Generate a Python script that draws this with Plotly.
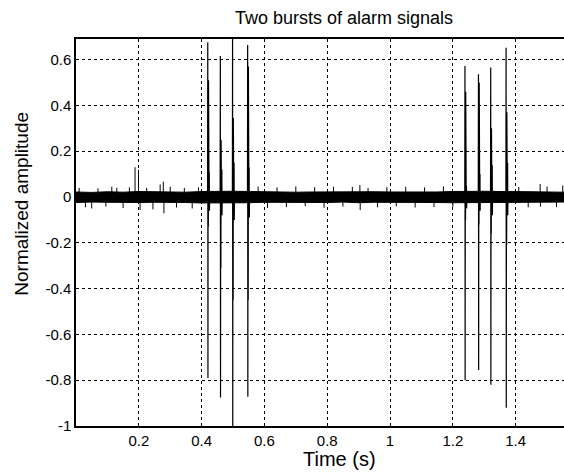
import plotly.graph_objects as go

# ---- data ----
# background noise envelope (time in s, upper / lower amplitude)
noise_t = [0.00, 0.05, 0.10, 0.15, 0.20, 0.25, 0.30, 0.35, 0.40, 0.45, 0.50, 0.55,
           0.60, 0.65, 0.70, 0.75, 0.80, 0.85, 0.90, 0.95, 1.00, 1.05, 1.10, 1.15,
           1.20, 1.25, 1.30, 1.35, 1.40, 1.45, 1.50, 1.56]
noise_hi = [0.022, 0.020, 0.023, 0.021, 0.024, 0.022, 0.023, 0.021, 0.024, 0.026, 0.025, 0.024,
            0.022, 0.023, 0.021, 0.022, 0.023, 0.021, 0.024, 0.023, 0.022, 0.021, 0.023, 0.022,
            0.024, 0.026, 0.025, 0.024, 0.022, 0.023, 0.022, 0.021]
noise_lo = [-0.024, -0.022, -0.023, -0.025, -0.024, -0.023, -0.022, -0.024, -0.026, -0.027, -0.026, -0.025,
            -0.023, -0.024, -0.022, -0.023, -0.024, -0.022, -0.025, -0.023, -0.024, -0.022, -0.023, -0.024,
            -0.025, -0.027, -0.026, -0.025, -0.023, -0.024, -0.023, -0.022]

# isolated small excursions above/below the noise band
small_t = [0.010, 0.030, 0.050, 0.070, 0.095, 0.114, 0.130, 0.150, 0.170, 0.188, 0.199, 0.204,
           0.225, 0.245, 0.268, 0.278, 0.280, 0.300, 0.320, 0.345, 0.370, 0.390, 0.580, 0.610,
           0.640, 0.670, 0.700, 0.730, 0.760, 0.790, 0.820, 0.850, 0.880, 0.904, 0.905, 0.930,
           0.960, 0.990, 1.020, 1.050, 1.080, 1.110, 1.140, 1.170, 1.200, 1.410, 1.440, 1.478,
           1.479, 1.500, 1.530, 1.550]
small_v = [0.040, -0.045, -0.050, 0.038, -0.042, 0.045, 0.040, -0.048, 0.042, 0.130, 0.118, -0.057,
           0.040, -0.054, 0.055, 0.067, -0.071, 0.045, -0.046, 0.040, -0.050, 0.042, 0.045, -0.048,
           0.042, -0.044, 0.046, -0.040, 0.043, -0.047, 0.045, -0.042, 0.044, 0.052, -0.057, 0.040,
           -0.045, 0.043, -0.041, 0.045, -0.046, 0.042, -0.044, 0.046, -0.043, 0.044, -0.045, 0.057,
           -0.042, 0.046, -0.044, 0.050]

# alarm pulses: time, outer peak/trough, inner (thicker) oscillation levels
pulse_t = [0.419, 0.459, 0.498, 0.546, 1.238, 1.281, 1.320, 1.369]
pulse_peak = [0.676, 0.616, 0.75, 0.664, 0.572, 0.536, 0.565, 0.652]
pulse_trough = [-0.79, -0.875, -1.05, -0.872, -0.80, -0.755, -0.82, -0.92]
pulse_in_hi = [0.51, 0.25, 0.345, 0.57, 0.46, 0.50, 0.30, 0.37]
pulse_in_lo = [-0.13, -0.31, -0.45, -0.45, -0.10, -0.12, -0.16, -0.21]
pulse_in2_hi = [0.11, 0.12, 0.15, 0.13, 0.05, 0.10, 0.14, 0.15]
pulse_in2_lo = [-0.06, -0.08, -0.10, -0.09, -0.05, -0.06, -0.08, -0.08]

x_ticks = [0.2, 0.4, 0.6, 0.8, 1.0, 1.2, 1.4]
x_labels = ["0.2", "0.4", "0.6", "0.8", "1", "1.2", "1.4"]
y_ticks = [0.6, 0.4, 0.2, 0, -0.2, -0.4, -0.6, -0.8, -1]
y_labels = ["0.6", "0.4", "0.2", "0", "-0.2", "-0.4", "-0.6", "-0.8", "-1"]

# ---- build traces ----
fig = go.Figure()

band_x = noise_t + noise_t[::-1]
band_y = noise_hi + noise_lo[::-1]
fig.add_trace(go.Scatter(x=band_x, y=band_y, fill="toself", fillcolor="black",
                         line=dict(color="black", width=1), mode="lines",
                         hoverinfo="skip", showlegend=False))

sx, sy = [], []
for t, v in zip(small_t, small_v):
    sx += [t, t, None]
    sy += [0, v, None]
fig.add_trace(go.Scatter(x=sx, y=sy, mode="lines", line=dict(color="black", width=1),
                         showlegend=False, hoverinfo="skip"))

step = 0.0006
px, py = [], []
for i, t in enumerate(pulse_t):
    seq = [0, pulse_peak[i], pulse_trough[i], pulse_in_hi[i], pulse_in_lo[i],
           pulse_in_hi[i], pulse_in_lo[i], pulse_in2_hi[i], pulse_in2_lo[i],
           pulse_in2_hi[i], pulse_in2_lo[i], 0]
    for k, v in enumerate(seq):
        px.append(t + k * step)
        py.append(v)
    px.append(None)
    py.append(None)
fig.add_trace(go.Scatter(x=px, y=py, mode="lines", line=dict(color="black", width=1.2),
                         showlegend=False, hoverinfo="skip"))

font = "Liberation Sans, Arial, Helvetica, sans-serif"
fig.update_layout(
    width=564, height=472,
    margin=dict(l=76, r=0, t=39, b=46, autoexpand=False),
    paper_bgcolor="white", plot_bgcolor="white",
    font=dict(family=font, color="black", size=15),
    title=dict(text="Two bursts of alarm signals", x=0.61, xanchor="center",
               y=0.962, yanchor="middle", font=dict(size=18)),
    showlegend=False,
    annotations=[
        dict(text="Time (s)", xref="paper", yref="paper", x=0.539, y=-0.119,
             xanchor="center", yanchor="bottom", showarrow=False, font=dict(size=20)),
        dict(text="Normalized amplitude", xref="paper", yref="paper", x=-0.111, y=0.574,
             xanchor="center", yanchor="middle", textangle=-90, showarrow=False,
             font=dict(size=19)),
    ],
)
fig.update_xaxes(range=[0, 1.554], tickvals=x_ticks, ticktext=x_labels,
                 showgrid=True, gridcolor="black", gridwidth=1, griddash="3px,3px",
                 showline=True, linecolor="black", linewidth=1.5, mirror=True,
                 ticks="", zeroline=False, automargin=False)
fig.update_yaxes(range=[-1, 0.69], tickvals=y_ticks, ticktext=y_labels,
                 showgrid=True, gridcolor="black", gridwidth=1, griddash="3px,3px",
                 showline=True, linecolor="black", linewidth=1.5, mirror=False,
                 ticks="", zeroline=False, automargin=False)

fig.write_html("out.html", config={"displayModeBar": False},
               post_script="document.body.style.margin='0';document.body.style.overflow='hidden';")
